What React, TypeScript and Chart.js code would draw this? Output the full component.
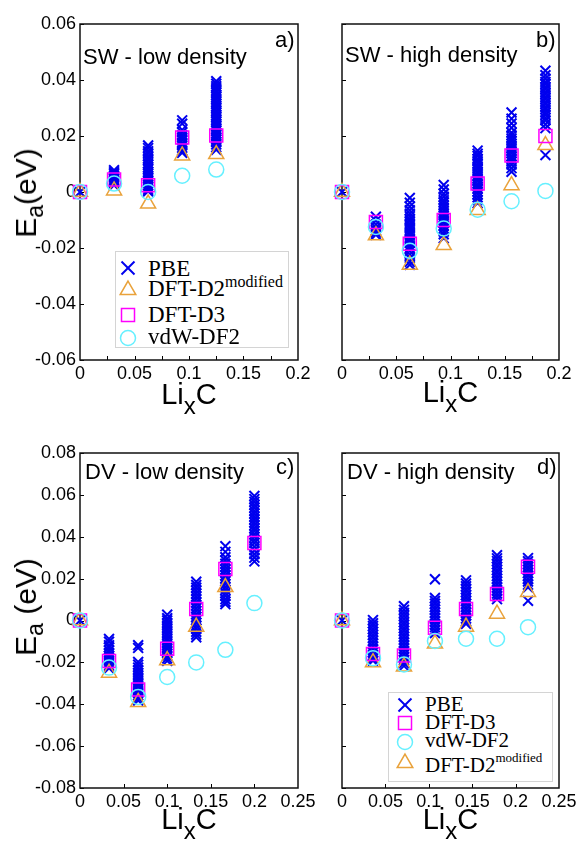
import React, { useEffect, useRef } from 'react';
import { Chart, registerables } from 'chart.js';

Chart.register(...registerables);

// ---------------- Data ----------------
// Panel a) SW - low density
const X_SW_LOW = [0, 0.03125, 0.0625, 0.09375, 0.125];
const PBE_SW_LOW = [
  [0],
  [0.0078, 0.0071, 0.0066, 0.0059, 0.0054, 0.0047, 0.0042, 0.0036, 0.003, 0.0024],
  [0.0166, 0.0157, 0.0146, 0.0138, 0.0128, 0.012, 0.0113, 0.0103, 0.0097, 0.0088, 0.0081, 0.0072, 0.0065, 0.0056, 0.0049, 0.004, 0.0033, 0.0024, 0.0017, 0.0008, 0.0002],
  [0.0256, 0.0244, 0.0222, 0.0213, 0.0203, 0.0195, 0.0186, 0.0175, 0.0167, 0.0158, 0.0148, 0.014],
  [0.0396, 0.0387, 0.0378, 0.0371, 0.0362, 0.0355, 0.0346, 0.0339, 0.0331, 0.0322, 0.0315, 0.0306, 0.0299, 0.029, 0.0283, 0.0274, 0.0267, 0.0258, 0.0251, 0.0242, 0.0235, 0.0226, 0.0219, 0.021, 0.0203, 0.0194, 0.0187, 0.0178, 0.017, 0.016, 0.0151],
];
const D2_SW_LOW = [0, 0.0005, -0.0042, 0.013, 0.0135];
const D3_SW_LOW = [0, 0.0045, 0.0024, 0.0195, 0.0202];
const DF2_SW_LOW = [0, 0.003, 0.0, 0.0058, 0.008];

// Panel b) SW - high density
const X_SW_HIGH = [0, 0.03125, 0.0625, 0.09375, 0.125, 0.15625, 0.1875];
const PBE_SW_HIGH = [
  [0],
  [-0.0088, -0.0103, -0.0117, -0.0127, -0.0137, -0.0145, -0.0153],
  [-0.0021, -0.0038, -0.0052, -0.0065, -0.0077, -0.0087, -0.0097, -0.0104, -0.0114, -0.0122, -0.013, -0.014, -0.0148, -0.0156, -0.0166, -0.0174, -0.0182, -0.0193, -0.0201, -0.0211, -0.0224, -0.0235, -0.0249, -0.026],
  [0.0025, 0.0009, -0.0006, -0.0017, -0.0029, -0.0038, -0.0048, -0.0056, -0.0066, -0.0076, -0.0084, -0.0094, -0.0102, -0.0111, -0.0121, -0.013, -0.0141, -0.0151, -0.0165],
  [0.0148, 0.0137, 0.0129, 0.0118, 0.011, 0.0101, 0.0091, 0.0083, 0.0073, 0.0066, 0.0056, 0.0047, 0.0039, 0.0029, 0.002, 0.0012, 0.0002, -0.0008, -0.0019, -0.0029, -0.004],
  [0.0284, 0.0262, 0.0245, 0.0229, 0.0212, 0.0202, 0.0191, 0.0183, 0.0173, 0.0165, 0.0156, 0.0146, 0.0138, 0.0128, 0.012, 0.0109, 0.0098, 0.0085, 0.0072],
  [0.0433, 0.0417, 0.0405, 0.0393, 0.0385, 0.0374, 0.0367, 0.0356, 0.0349, 0.0338, 0.0331, 0.032, 0.0313, 0.0302, 0.0295, 0.0284, 0.0276, 0.0265, 0.0256, 0.0242, 0.0228, 0.0132],
];
const D2_SW_HIGH = [0, -0.0155, -0.026, -0.019, -0.0065, 0.0024, 0.0167];
const D3_SW_HIGH = [0, -0.0107, -0.0185, -0.01, 0.003, 0.013, 0.02];
const DF2_SW_HIGH = [0, -0.0125, -0.021, -0.013, -0.0063, -0.0033, 0.0004];

// Panel c) DV - low density
const X_DV_LOW = [0, 0.0333, 0.0667, 0.1, 0.1333, 0.1667, 0.2];
const PBE_DV_LOW = [
  [0],
  [-0.0088, -0.0101, -0.0118, -0.0129, -0.0143, -0.0155, -0.0168, -0.0179, -0.0192, -0.0203, -0.0216, -0.0228],
  [-0.0118, -0.0131, -0.0198, -0.0211, -0.0225, -0.0237, -0.025, -0.0261, -0.0274, -0.0285, -0.0298, -0.0309, -0.0322, -0.0333, -0.0346, -0.0357, -0.037, -0.0382],
  [0.0028, 0.0011, 0.0, -0.0013, -0.0024, -0.0037, -0.0048, -0.0061, -0.0072, -0.0085, -0.0096, -0.0109, -0.012, -0.0133, -0.0144, -0.0157, -0.0168, -0.0181, -0.0193],
  [0.0185, 0.017, 0.0157, 0.0142, 0.0129, 0.0114, 0.0101, 0.0086, 0.0073, 0.0058, 0.0045, 0.003, 0.0017, 0.0002, -0.0011, -0.0026, -0.0039, -0.0054, -0.0067, -0.008],
  [0.0355, 0.0328, 0.0302, 0.0287, 0.0271, 0.0258, 0.0243, 0.023, 0.0215, 0.0202, 0.0187, 0.0174, 0.0159, 0.0146, 0.0131, 0.0118, 0.0102, 0.0089, 0.0078],
  [0.0595, 0.058, 0.0567, 0.0552, 0.0539, 0.0524, 0.0511, 0.0496, 0.0483, 0.0468, 0.0455, 0.044, 0.0427, 0.0412, 0.0399, 0.0384, 0.037, 0.0352, 0.0335, 0.0317, 0.03, 0.0282],
];
const D2_DV_LOW: (number | null)[] = [0, -0.025, -0.039, -0.019, -0.003, 0.0159, null];
const D3_DV_LOW = [0, -0.0194, -0.033, -0.0135, 0.0055, 0.0246, 0.037];
const DF2_DV_LOW = [0, -0.0225, -0.0365, -0.027, -0.02, -0.014, 0.0083];

// Panel d) DV - high density
const X_DV_HIGH = [0, 0.0357, 0.0714, 0.1071, 0.1429, 0.1786, 0.2143];
const PBE_DV_HIGH = [
  [0],
  [0.0002, -0.0013, -0.0026, -0.0041, -0.0054, -0.0069, -0.0082, -0.0097, -0.011, -0.0125, -0.0138, -0.0153, -0.0166, -0.0181, -0.0192],
  [0.0068, 0.0051, 0.0036, 0.0022, 0.0007, -0.0008, -0.0021, -0.0036, -0.0049, -0.0064, -0.0077, -0.0092, -0.0105, -0.012, -0.0133, -0.0148, -0.0161, -0.0176, -0.0189, -0.0204, -0.0217],
  [0.0197, 0.0108, 0.0093, 0.008, 0.0065, 0.0052, 0.0037, 0.0024, 0.0009, -0.0004, -0.0019, -0.0032, -0.0047, -0.006],
  [0.0192, 0.0177, 0.0164, 0.0149, 0.0136, 0.0121, 0.0108, 0.0093, 0.008, 0.0065, 0.0052, 0.0037, 0.0024, 0.0009, -0.0004, -0.0016],
  [0.0312, 0.0297, 0.0284, 0.0269, 0.0256, 0.0241, 0.0228, 0.0213, 0.02, 0.0185, 0.0172, 0.0157, 0.0144, 0.0129, 0.0116, 0.0102],
  [0.0298, 0.0283, 0.027, 0.0255, 0.0242, 0.0227, 0.0214, 0.0199, 0.0186, 0.0171, 0.0158, 0.0094],
];
const D2_DV_HIGH = [0, -0.02, -0.022, -0.011, -0.003, 0.0032, 0.0135];
const D3_DV_HIGH = [0, -0.016, -0.0167, -0.0035, 0.0055, 0.0127, 0.0257];
const DF2_DV_HIGH = [0, -0.018, -0.021, -0.0098, -0.0087, -0.0087, -0.0032];

// Ticks
const X_TICKS_SW = [0, 0.05, 0.1, 0.15, 0.2];
const X_MARKS_SW = [0.025, 0.05, 0.075, 0.1, 0.125, 0.15, 0.175];
const Y_TICKS_SW = [-0.06, -0.04, -0.02, 0, 0.02, 0.04, 0.06];
const X_TICKS_DV = [0, 0.05, 0.1, 0.15, 0.2, 0.25];
const X_MARKS_DV = [0.05, 0.1, 0.15, 0.2];
const Y_TICKS_DV = [-0.08, -0.06, -0.04, -0.02, 0, 0.02, 0.04, 0.06, 0.08];

// ---------------- Styles ----------------
const BLUE = '#0000ee';
const ORANGE = '#e9a23b';
const MAGENTA = '#ff00ff';
const CYAN = '#66f0ff';
const SANS = '"Liberation Sans", Arial, Helvetica, sans-serif';
const SERIF = '"Liberation Serif", "Times New Roman", serif';

const fmtX = (v: number) => (Math.abs(v) < 1e-9 ? '0' : String(parseFloat(v.toFixed(3))));
const fmtY = (v: number) => (Math.abs(v) < 1e-9 ? '0' : v.toFixed(2));

const framePlugin = {
  id: 'frame',
  beforeDatasetsDraw(chart: any, _args: any, opts: any) {
    const { ctx, chartArea } = chart;
    const { left, right, top, bottom } = chartArea;
    const xs = chart.scales.x;
    const ys = chart.scales.y;
    ctx.save();
    ctx.strokeStyle = '#000';
    ctx.lineWidth = 1;
    ctx.beginPath();
    for (const v of opts.xMarks || []) {
      const p = Math.round(xs.getPixelForValue(v)) + 0.5;
      ctx.moveTo(p, bottom);
      ctx.lineTo(p, bottom - 4);
    }
    for (const v of opts.yMarks || []) {
      const p = Math.round(ys.getPixelForValue(v)) + 0.5;
      ctx.moveTo(left, p);
      ctx.lineTo(left + 4, p);
    }
    ctx.stroke();
    ctx.lineWidth = 1.5;
    ctx.strokeStyle = '#111';
    ctx.strokeRect(left, top, right - left, bottom - top);
    ctx.restore();
  },
};

type PanelSpec = {
  xs: number[];
  pbe: number[][];
  d2: (number | null)[];
  d3: number[];
  df2: number[];
  xMax: number;
  yMin: number;
  yMax: number;
  xTicks: number[];
  xMarks: number[];
  yTicks: number[];
  showY: boolean;
  left: number;
  top: number;
  w: number;
  h: number;
  yAxisW: number;
  padR: number;
  padT: number;
  xAxisH: number;
};

function pts(xs: number[], ys: (number | null)[]) {
  return xs
    .map((x, i) => ({ x, y: ys[i] }))
    .filter((p) => p.y !== null && p.y !== undefined) as { x: number; y: number }[];
}

function Panel({ s }: { s: PanelSpec }) {
  const ref = useRef<HTMLCanvasElement>(null);
  useEffect(() => {
    const pbePts = s.xs.flatMap((x, i) => s.pbe[i].map((y) => ({ x, y })));
    const chart = new Chart(ref.current as HTMLCanvasElement, {
      type: 'scatter',
      data: {
        datasets: [
          {
            label: 'PBE',
            data: pbePts,
            pointStyle: 'crossRot',
            pointRadius: 7,
            pointBorderWidth: 2,
            pointBorderColor: BLUE,
            pointBackgroundColor: BLUE,
            order: 4,
            clip: false,
          } as any,
          {
            label: 'DFT-D2 modified',
            data: pts(s.xs, s.d2),
            pointStyle: 'triangle',
            pointRadius: 8.7,
            pointBorderWidth: 1.5,
            pointBorderColor: ORANGE,
            pointBackgroundColor: 'rgba(0,0,0,0)',
            order: 3,
            clip: false,
          },
          {
            label: 'DFT-D3',
            data: pts(s.xs, s.d3),
            pointStyle: 'rect',
            pointRadius: 9.2,
            pointBorderWidth: 1.5,
            pointBorderColor: MAGENTA,
            pointBackgroundColor: 'rgba(0,0,0,0)',
            order: 2,
            clip: false,
          },
          {
            label: 'vdW-DF2',
            data: pts(s.xs, s.df2),
            pointStyle: 'circle',
            pointRadius: 7.5,
            pointBorderWidth: 1.5,
            pointBorderColor: CYAN,
            pointBackgroundColor: 'rgba(0,0,0,0)',
            order: 1,
            clip: false,
          },
        ],
      },
      options: {
        responsive: false,
        maintainAspectRatio: false,
        animation: false,
        events: [],
        layout: { padding: { top: s.padT, right: s.padR, left: 0, bottom: 0 } },
        plugins: {
          legend: { display: false },
          tooltip: { enabled: false },
          frame: { xMarks: s.xMarks, yMarks: s.yTicks },
        } as any,
        scales: {
          x: {
            type: 'linear',
            min: 0,
            max: s.xMax,
            grid: { display: false, drawTicks: false },
            border: { display: false },
            afterBuildTicks: (sc: any) => {
              sc.ticks = s.xTicks.map((v) => ({ value: v }));
            },
            afterFit: (sc: any) => {
              sc.height = s.xAxisH;
            },
            ticks: {
              color: '#000',
              font: { family: SANS, size: 18 },
              padding: 3,
              maxRotation: 0,
              autoSkip: false,
              callback: (v: any) => fmtX(Number(v)),
            },
          },
          y: {
            type: 'linear',
            min: s.yMin,
            max: s.yMax,
            grid: { display: false, drawTicks: false },
            border: { display: false },
            afterBuildTicks: (sc: any) => {
              sc.ticks = s.yTicks.map((v) => ({ value: v }));
            },
            afterFit: (sc: any) => {
              sc.width = s.yAxisW;
            },
            ticks: {
              display: s.showY,
              color: '#000',
              font: { family: SANS, size: 18 },
              padding: 4,
              autoSkip: false,
              callback: (v: any) => fmtY(Number(v)),
            },
          },
        },
      },
      plugins: [framePlugin as any],
    });
    return () => chart.destroy();
  }, [s]);
  return (
    <canvas
      ref={ref}
      width={s.w}
      height={s.h}
      style={{ position: 'absolute', left: s.left, top: s.top, width: s.w, height: s.h }}
    />
  );
}

function Txt({ x, base, size, family, children, style }: any) {
  return (
    <div
      style={{
        position: 'absolute',
        left: x,
        top: base - 0.85 * size,
        fontSize: size,
        lineHeight: `${size}px`,
        fontFamily: family,
        whiteSpace: 'nowrap',
        color: '#000',
        ...style,
      }}
    >
      {children}
    </div>
  );
}

function Marker({ kind, cx, cy }: { kind: string; cx: number; cy: number }) {
  const S = 22;
  const c = S / 2;
  let el: any = null;
  if (kind === 'cross') {
    const d = 6.5;
    el = (
      <g stroke={BLUE} strokeWidth={2}>
        <line x1={c - d} y1={c - d} x2={c + d} y2={c + d} />
        <line x1={c - d} y1={c + d} x2={c + d} y2={c - d} />
      </g>
    );
  } else if (kind === 'tri') {
    const r = 9;
    const p = [
      [c, c - r],
      [c + r * Math.sin((2 * Math.PI) / 3), c - r * Math.cos((2 * Math.PI) / 3)],
      [c - r * Math.sin((2 * Math.PI) / 3), c - r * Math.cos((2 * Math.PI) / 3)],
    ]
      .map((q) => q.join(','))
      .join(' ');
    el = <polygon points={p} fill="none" stroke={ORANGE} strokeWidth={1.5} />;
  } else if (kind === 'sq') {
    el = <rect x={c - 6.5} y={c - 6.5} width={13} height={13} fill="none" stroke={MAGENTA} strokeWidth={1.5} />;
  } else {
    el = <circle cx={c} cy={c} r={7.5} fill="none" stroke={CYAN} strokeWidth={1.5} />;
  }
  return (
    <svg width={S} height={S} style={{ position: 'absolute', left: cx - c, top: cy - c }}>
      {el}
    </svg>
  );
}

type LegItem = { kind: string; label: string; sup?: string };
const LEGEND_A_ITEMS: LegItem[] = [
  { kind: 'cross', label: 'PBE' },
  { kind: 'tri', label: 'DFT-D2', sup: 'modified' },
  { kind: 'sq', label: 'DFT-D3' },
  { kind: 'circ', label: 'vdW-DF2' },
];
const LEGEND_D_ITEMS: LegItem[] = [
  { kind: 'cross', label: 'PBE' },
  { kind: 'sq', label: 'DFT-D3' },
  { kind: 'circ', label: 'vdW-DF2' },
  { kind: 'tri', label: 'DFT-D2', sup: 'modified' },
];

function Legend({ items, box, mx, tx, my, bases, size, supSize, supOff }: any) {
  return (
    <>
      <div
        style={{
          position: 'absolute',
          left: box[0],
          top: box[1],
          width: box[2],
          height: box[3],
          border: '1px solid #d4d4d4',
          background: '#fff',
          boxSizing: 'border-box',
        }}
      />
      {items.map((it: LegItem, i: number) => (
        <React.Fragment key={i}>
          <Marker kind={it.kind} cx={mx} cy={my[i]} />
          <Txt x={tx} base={bases[i]} size={size} family={SERIF}>
            {it.label}
            {it.sup ? (
              <span style={{ fontSize: supSize, position: 'relative', top: supOff }}>{it.sup}</span>
            ) : null}
          </Txt>
        </React.Fragment>
      ))}
    </>
  );
}

function YTitle({ cx, cy, text }: { cx: number; cy: number; text: string }) {
  return (
    <div
      style={{
        position: 'absolute',
        left: cx,
        top: cy,
        transform: 'translate(-50%, -50%) rotate(-90deg)',
        fontFamily: SANS,
        fontSize: 30,
        lineHeight: '30px',
        whiteSpace: 'nowrap',
        color: '#000',
      }}
    >
      E<span style={{ fontSize: 23, position: 'relative', top: 7 }}>a</span>
      {text}
    </div>
  );
}

function XTitle({ left, width, base }: { left: number; width: number; base: number }) {
  return (
    <div
      style={{
        position: 'absolute',
        left,
        width,
        top: base - 0.85 * 29,
        textAlign: 'center',
        fontFamily: SANS,
        fontSize: 29,
        lineHeight: '29px',
        whiteSpace: 'nowrap',
        color: '#000',
      }}
    >
      Li<span style={{ fontSize: 24, position: 'relative', top: 10 }}>x</span>C
    </div>
  );
}

const PANEL_A: PanelSpec = {
  xs: X_SW_LOW, pbe: PBE_SW_LOW, d2: D2_SW_LOW, d3: D3_SW_LOW, df2: DF2_SW_LOW,
  xMax: 0.2, yMin: -0.06, yMax: 0.06, xTicks: X_TICKS_SW, xMarks: X_MARKS_SW, yTicks: Y_TICKS_SW, showY: true,
  left: 0, top: 0, w: 320, h: 420, yAxisW: 80, padR: 22, padT: 24, xAxisH: 60,
};
const PANEL_B: PanelSpec = {
  xs: X_SW_HIGH, pbe: PBE_SW_HIGH, d2: D2_SW_HIGH, d3: D3_SW_HIGH, df2: DF2_SW_HIGH,
  xMax: 0.2, yMin: -0.06, yMax: 0.06, xTicks: X_TICKS_SW, xMarks: X_MARKS_SW, yTicks: Y_TICKS_SW, showY: false,
  left: 300, top: 0, w: 280, h: 420, yAxisW: 42, padR: 21, padT: 24, xAxisH: 60,
};
const PANEL_C: PanelSpec = {
  xs: X_DV_LOW, pbe: PBE_DV_LOW, d2: D2_DV_LOW, d3: D3_DV_LOW, df2: DF2_DV_LOW,
  xMax: 0.25, yMin: -0.08, yMax: 0.08, xTicks: X_TICKS_DV, xMarks: X_MARKS_DV, yTicks: Y_TICKS_DV, showY: true,
  left: 0, top: 420, w: 320, h: 422, yAxisW: 80, padR: 22, padT: 33, xAxisH: 54,
};
const PANEL_D: PanelSpec = {
  xs: X_DV_HIGH, pbe: PBE_DV_HIGH, d2: D2_DV_HIGH, d3: D3_DV_HIGH, df2: DF2_DV_HIGH,
  xMax: 0.25, yMin: -0.08, yMax: 0.08, xTicks: X_TICKS_DV, xMarks: X_MARKS_DV, yTicks: Y_TICKS_DV, showY: false,
  left: 300, top: 420, w: 280, h: 422, yAxisW: 42, padR: 21, padT: 33, xAxisH: 54,
};

export default function App() {
  return (
    <div
      style={{
        position: 'absolute',
        left: 0,
        top: 0,
        width: 580,
        height: 842,
        background: '#fff',
        overflow: 'hidden',
      }}
    >
      <Panel s={PANEL_A} />
      <Panel s={PANEL_B} />
      <Panel s={PANEL_C} />
      <Panel s={PANEL_D} />

      <Txt x={83} base={65} size={22} family={SANS}>SW - low density</Txt>
      <Txt x={275} base={48} size={22} family={SANS}>a)</Txt>
      <Txt x={345} base={63} size={22} family={SANS}>SW - high density</Txt>
      <Txt x={536} base={48} size={22} family={SANS}>b)</Txt>
      <Txt x={85} base={480} size={22} family={SANS}>DV - low density</Txt>
      <Txt x={276} base={475} size={22} family={SANS}>c)</Txt>
      <Txt x={347} base={480} size={22} family={SANS}>DV - high density</Txt>
      <Txt x={537} base={475} size={22} family={SANS}>d)</Txt>

      <YTitle cx={27} cy={193} text="(eV)" />
      <YTitle cx={27} cy={607} text=" (eV)" />
      <XTitle left={80} width={218} base={405} />
      <XTitle left={342} width={217} base={403} />
      <XTitle left={80} width={218} base={830} />
      <XTitle left={342} width={217} base={830} />

      <Legend
        items={LEGEND_A_ITEMS}
        box={[115, 251, 174, 97]}
        mx={128}
        tx={148}
        my={[268, 290, 315, 338]}
        bases={[277, 297, 323, 345]}
        size={23}
        supSize={16}
        supOff={-9}
      />
      <Legend
        items={LEGEND_D_ITEMS}
        box={[388, 692, 165, 90]}
        mx={405}
        tx={425}
        my={[705, 723, 742, 763]}
        bases={[712, 730, 748, 773]}
        size={21}
        supSize={13}
        supOff={-10}
      />
    </div>
  );
}
